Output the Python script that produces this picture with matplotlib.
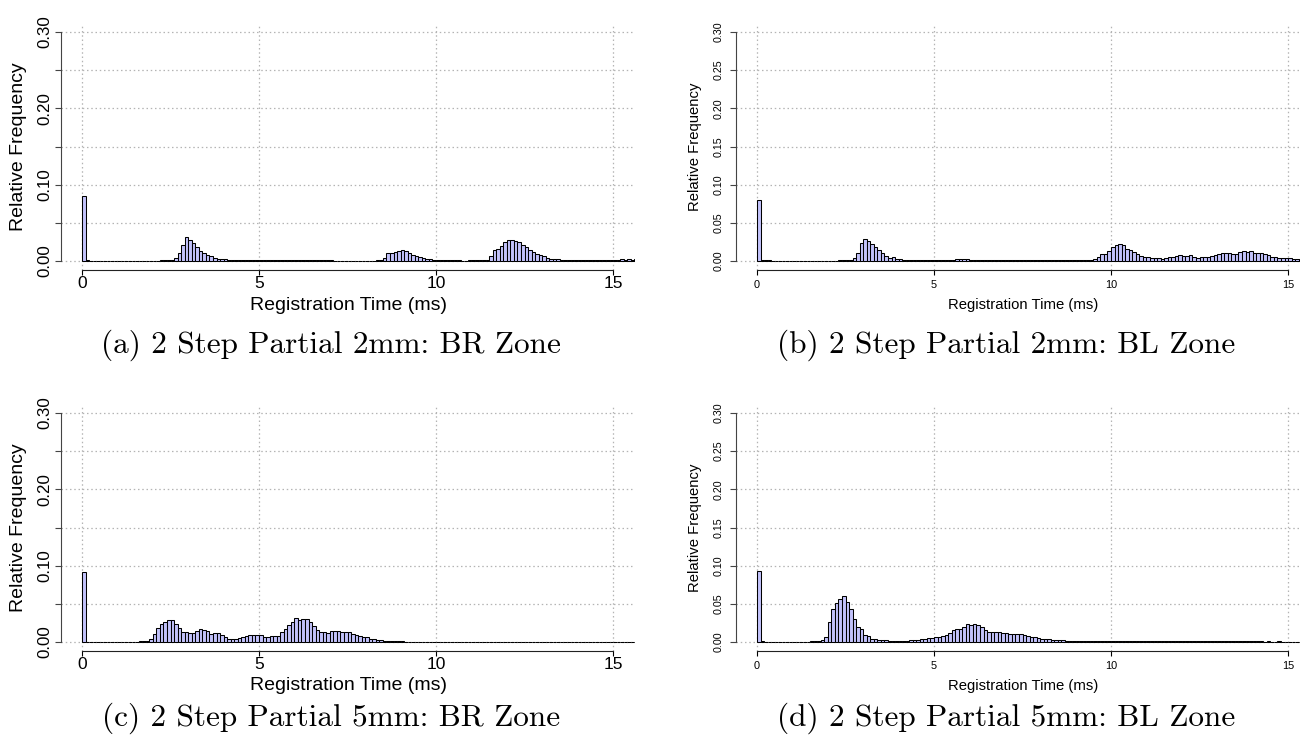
import numpy as np
import matplotlib
matplotlib.use('Agg')
import matplotlib.pyplot as plt

# relative frequency per 0.1 ms bin, starting at 0.0 ms
bin_width = 0.1

br_2mm = [
    0.0850, 0.0008, 0.0006, 0.0005, 0.0005, 0.0004, 0.0004, 0.0004, 0.0003, 0.0004,
    0.0003, 0.0004, 0.0003, 0.0003, 0.0004, 0.0003, 0.0003, 0.0004, 0.0004, 0.0005,
    0.0005, 0.0006, 0.0007, 0.0008, 0.0009, 0.0012, 0.0035, 0.0100, 0.0205, 0.0320,
    0.0270, 0.0230, 0.0180, 0.0127, 0.0100, 0.0080, 0.0065, 0.0045, 0.0030, 0.0030,
    0.0020, 0.0015, 0.0012, 0.0010, 0.0009, 0.0008, 0.0008, 0.0007, 0.0007, 0.0007,
    0.0007, 0.0008, 0.0008, 0.0008, 0.0009, 0.0009, 0.0010, 0.0010, 0.0011, 0.0012,
    0.0012, 0.0011, 0.0010, 0.0009, 0.0009, 0.0008, 0.0008, 0.0008, 0.0007, 0.0007,
    0.0007, 0.0006, 0.0006, 0.0006, 0.0006, 0.0005, 0.0005, 0.0005, 0.0005, 0.0005,
    0.0005, 0.0005, 0.0006, 0.0007, 0.0010, 0.0035, 0.0110, 0.0110, 0.0120, 0.0130,
    0.0145, 0.0135, 0.0100, 0.0075, 0.0065, 0.0050, 0.0035, 0.0030, 0.0020, 0.0015,
    0.0010, 0.0009, 0.0008, 0.0008, 0.0007, 0.0007, 0.0007, 0.0006, 0.0006, 0.0007,
    0.0007, 0.0007, 0.0008, 0.0008, 0.0010, 0.0065, 0.0145, 0.0160, 0.0200, 0.0250,
    0.0280, 0.0275, 0.0260, 0.0245, 0.0210, 0.0180, 0.0145, 0.0120, 0.0090, 0.0080,
    0.0060, 0.0045, 0.0030, 0.0030, 0.0020, 0.0018, 0.0012, 0.0010, 0.0010, 0.0010,
    0.0010, 0.0009, 0.0010, 0.0009, 0.0010, 0.0010, 0.0011, 0.0012, 0.0015, 0.0014,
    0.0015, 0.0010, 0.0020, 0.0015, 0.0020, 0.0015, 0.0020,
]

bl_2mm = [
    0.0800, 0.0010, 0.0008, 0.0007, 0.0006, 0.0006, 0.0005, 0.0005, 0.0004, 0.0004,
    0.0004, 0.0004, 0.0004, 0.0004, 0.0004, 0.0005, 0.0004, 0.0004, 0.0004, 0.0005,
    0.0005, 0.0005, 0.0006, 0.0007, 0.0008, 0.0010, 0.0012, 0.0035, 0.0110, 0.0230,
    0.0287, 0.0265, 0.0220, 0.0187, 0.0143, 0.0100, 0.0070, 0.0043, 0.0048, 0.0026,
    0.0020, 0.0015, 0.0012, 0.0010, 0.0010, 0.0010, 0.0010, 0.0011, 0.0012, 0.0012,
    0.0015, 0.0013, 0.0012, 0.0014, 0.0016, 0.0018, 0.0020, 0.0022, 0.0025, 0.0020,
    0.0018, 0.0016, 0.0015, 0.0016, 0.0014, 0.0013, 0.0012, 0.0011, 0.0010, 0.0010,
    0.0010, 0.0009, 0.0009, 0.0009, 0.0008, 0.0008, 0.0008, 0.0008, 0.0009, 0.0009,
    0.0009, 0.0009, 0.0010, 0.0010, 0.0011, 0.0012, 0.0012, 0.0013, 0.0015, 0.0015,
    0.0015, 0.0016, 0.0015, 0.0014, 0.0016, 0.0020, 0.0056, 0.0087, 0.0087, 0.0135,
    0.0180, 0.0210, 0.0217, 0.0210, 0.0160, 0.0143, 0.0120, 0.0090, 0.0070, 0.0056,
    0.0048, 0.0035, 0.0035, 0.0035, 0.0030, 0.0043, 0.0050, 0.0050, 0.0065, 0.0078,
    0.0065, 0.0070, 0.0074, 0.0056, 0.0043, 0.0050, 0.0056, 0.0056, 0.0065, 0.0078,
    0.0090, 0.0100, 0.0100, 0.0100, 0.0095, 0.0090, 0.0117, 0.0130, 0.0117, 0.0135,
    0.0110, 0.0110, 0.0100, 0.0090, 0.0078, 0.0056, 0.0056, 0.0043, 0.0043, 0.0035,
    0.0035, 0.0030, 0.0030, 0.0025, 0.0025, 0.0022, 0.0020,
]

br_5mm = [
    0.0920, 0.0006, 0.0005, 0.0005, 0.0004, 0.0004, 0.0004, 0.0004, 0.0004, 0.0004,
    0.0004, 0.0004, 0.0004, 0.0005, 0.0005, 0.0006, 0.0007, 0.0008, 0.0012, 0.0035,
    0.0110, 0.0185, 0.0230, 0.0260, 0.0285, 0.0285, 0.0240, 0.0185, 0.0130, 0.0130,
    0.0120, 0.0115, 0.0140, 0.0170, 0.0160, 0.0140, 0.0110, 0.0120, 0.0115, 0.0086,
    0.0070, 0.0045, 0.0040, 0.0045, 0.0050, 0.0065, 0.0080, 0.0090, 0.0095, 0.0095,
    0.0090, 0.0065, 0.0070, 0.0080, 0.0085, 0.0085, 0.0130, 0.0170, 0.0220, 0.0260,
    0.0310, 0.0290, 0.0300, 0.0300, 0.0260, 0.0210, 0.0160, 0.0135, 0.0125, 0.0115,
    0.0140, 0.0145, 0.0140, 0.0125, 0.0135, 0.0130, 0.0110, 0.0095, 0.0080, 0.0070,
    0.0060, 0.0045, 0.0035, 0.0025, 0.0020, 0.0015, 0.0015, 0.0015, 0.0010, 0.0008,
    0.0007, 0.0006, 0.0006, 0.0006, 0.0005, 0.0005, 0.0005, 0.0005, 0.0005, 0.0005,
    0.0005, 0.0004, 0.0005, 0.0005, 0.0004, 0.0005, 0.0004, 0.0004, 0.0005, 0.0004,
    0.0004, 0.0004, 0.0005, 0.0004, 0.0004, 0.0004, 0.0005, 0.0004, 0.0004, 0.0004,
    0.0004, 0.0005, 0.0004, 0.0004, 0.0004, 0.0004, 0.0005, 0.0004, 0.0004, 0.0004,
    0.0004, 0.0004, 0.0004, 0.0005, 0.0004, 0.0004, 0.0004, 0.0004, 0.0005, 0.0004,
    0.0004, 0.0004, 0.0004, 0.0004, 0.0005, 0.0004, 0.0004, 0.0004, 0.0004, 0.0004,
    0.0004, 0.0004, 0.0005, 0.0004, 0.0004, 0.0004, 0.0004,
]

bl_5mm = [
    0.0930, 0.0008, 0.0006, 0.0005, 0.0005, 0.0004, 0.0004, 0.0004, 0.0004, 0.0004,
    0.0004, 0.0004, 0.0004, 0.0005, 0.0005, 0.0008, 0.0010, 0.0015, 0.0020, 0.0070,
    0.0265, 0.0435, 0.0510, 0.0557, 0.0600, 0.0520, 0.0426, 0.0296, 0.0200, 0.0174,
    0.0087, 0.0078, 0.0043, 0.0043, 0.0026, 0.0026, 0.0020, 0.0013, 0.0013, 0.0010,
    0.0010, 0.0015, 0.0018, 0.0020, 0.0022, 0.0026, 0.0035, 0.0043, 0.0050, 0.0056,
    0.0065, 0.0065, 0.0078, 0.0090, 0.0120, 0.0152, 0.0165, 0.0170, 0.0190, 0.0235,
    0.0220, 0.0235, 0.0217, 0.0190, 0.0160, 0.0135, 0.0130, 0.0130, 0.0130, 0.0120,
    0.0117, 0.0104, 0.0100, 0.0100, 0.0100, 0.0096, 0.0080, 0.0065, 0.0060, 0.0052,
    0.0043, 0.0040, 0.0035, 0.0030, 0.0026, 0.0022, 0.0020, 0.0017, 0.0016, 0.0015,
    0.0015, 0.0014, 0.0014, 0.0013, 0.0012, 0.0012, 0.0011, 0.0010, 0.0010, 0.0010,
    0.0010, 0.0010, 0.0009, 0.0009, 0.0009, 0.0009, 0.0008, 0.0008, 0.0009, 0.0009,
    0.0009, 0.0009, 0.0010, 0.0010, 0.0011, 0.0012, 0.0013, 0.0013, 0.0012, 0.0014,
    0.0015, 0.0014, 0.0012, 0.0011, 0.0010, 0.0010, 0.0009, 0.0009, 0.0009, 0.0008,
    0.0008, 0.0008, 0.0008, 0.0007, 0.0008, 0.0007, 0.0007, 0.0008, 0.0007, 0.0007,
    0.0007, 0.0007, 0.0007, 0.0006, 0.0007, 0.0006, 0.0006, 0.0007, 0.0006, 0.0006,
    0.0006, 0.0006, 0.0006, 0.0006, 0.0006, 0.0006, 0.0006,
]

captions = [
    '(a) 2 Step Partial 2mm: BR Zone',
    '(b) 2 Step Partial 2mm: BL Zone',
    '(c) 2 Step Partial 5mm: BR Zone',
    '(d) 2 Step Partial 5mm: BL Zone',
]
x_ticks = [0, 5, 10, 15]
y_ticks = [0.00, 0.05, 0.10, 0.15, 0.20, 0.25, 0.30]

plt.rcParams['font.family'] = ['Liberation Sans', 'DejaVu Sans']

W, H = 1300, 735
fig = plt.figure(figsize=(W / 100, H / 100), dpi=100)


def px_axes(left, top, width=574, height=246):
    return fig.add_axes([left / W, 1 - (top + height) / H, width / W, height / H])


def draw_panel(ax, vals, big):
    edges = np.arange(len(vals)) * bin_width
    ax.set_xlim(-0.593, 15.62)
    ax.set_ylim(-0.0118, 0.3105)
    ax.grid(True, color='#b4b4b4', linestyle=(0, (1.2, 2.2)), linewidth=0.9)
    ax.set_axisbelow(True)
    ax.bar(edges, vals, width=bin_width, align='edge', color='#c2c2fb',
           edgecolor='black', linewidth=0.75, zorder=2)
    for s in ['top', 'right']:
        ax.spines[s].set_visible(False)
    ax.spines['left'].set_bounds(0, 0.30)
    ax.spines['bottom'].set_bounds(0, 15)
    ax.spines['left'].set_color('#444444')
    ax.spines['bottom'].set_color('#222222')
    ax.set_xticks(x_ticks)
    ax.set_yticks(y_ticks)
    if big:
        ax.set_yticklabels(['0.00', '', '0.10', '', '0.20', '', '0.30'])
        ax.tick_params(axis='y', labelsize=12.2, length=4.3, pad=2,
                       labelrotation=90, color='#444444')
        ax.tick_params(axis='x', labelsize=12.5, length=3.5, pad=0.5)
    else:
        ax.set_yticklabels(['%.2f' % v for v in y_ticks])
        ax.tick_params(axis='y', labelsize=7.7, length=4.3, pad=4.5,
                       labelrotation=90, color='#444444')
        ax.tick_params(axis='x', labelsize=7.9, length=3.5, pad=3.5)
    for lab in ax.get_yticklabels():
        lab.set_va('center')


panels = [
    (61, 24, br_2mm, True),
    (736, 24, bl_2mm, False),
    (61, 405, br_5mm, True),
    (736, 405, bl_5mm, False),
]

cap_baselines = [353, 353, 726, 726]

for i, (left, top, vals, big) in enumerate(panels):
    ax = px_axes(left, top)
    draw_panel(ax, vals, big)
    ylab_x = 19 if big else 695
    xlab_x = left + 287
    lab_size = 14 if big else 10.7
    fig.text(ylab_x / W, 1 - (top + 123) / H, 'Relative Frequency',
             rotation=90, ha='center', va='center', fontsize=lab_size)
    fig.text(xlab_x / W, 1 - (top + 281) / H, 'Registration Time (ms)',
             ha='center', va='center', fontsize=lab_size)
    cap_x = 331 if big else 1006
    fig.text(cap_x / W, 1 - cap_baselines[i] / H, captions[i], family='cmr10',
             ha='center', va='baseline', fontsize=22.5)

fig.savefig('out.png', dpi=100)
